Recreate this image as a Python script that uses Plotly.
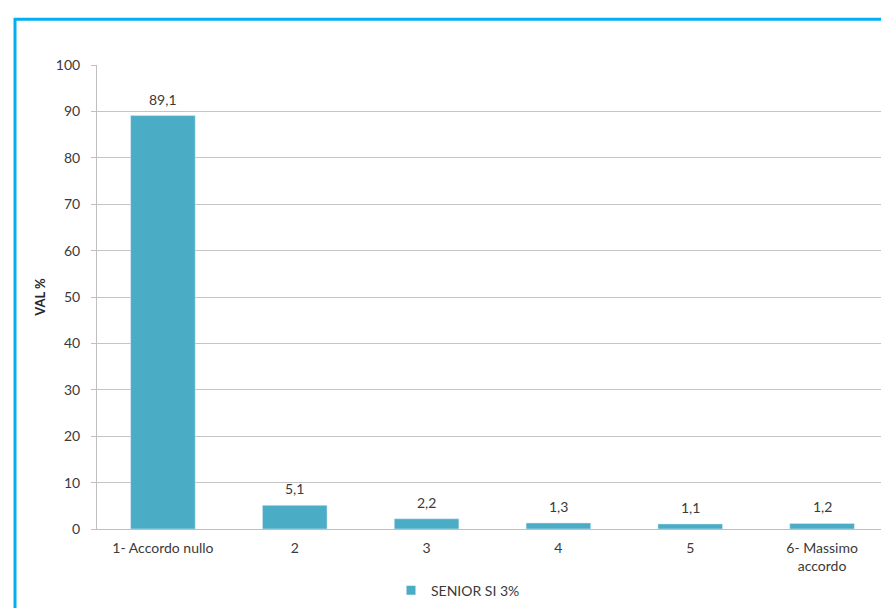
import plotly.graph_objects as go

categories = ["1- Accordo nullo", "2", "3", "4", "5", "6- Massimo<br>accordo"]
values = [89.1, 5.1, 2.2, 1.3, 1.1, 1.2]
series_name = "SENIOR SI 3%"
y_ticks = [0, 10, 20, 30, 40, 50, 60, 70, 80, 90, 100]

W, H = 889, 608
L, R, T, B = 89, 9, 57, 85
pw, ph = W - L - R, H - T - B

def px(x):
    return (x - L) / pw

def py(y):
    return (H - B - y) / ph

font_family = "Lato, 'Open Sans', sans-serif"
text_color = "#3a3a3a"
bar_color = "#4BACC6"

fig = go.Figure()
fig.add_trace(go.Bar(
    x=categories, y=values, name=series_name,
    marker=dict(color=bar_color),
    width=0.49, showlegend=False,
))
# legend entry (small square like the original)
fig.add_trace(go.Scatter(
    x=[categories[0]], y=[None], mode="markers", name=series_name,
    marker=dict(symbol="square", size=9, color=bar_color),
))

annotations = []
for i, v in enumerate(values):
    annotations.append(dict(
        x=i, y=v, xref="x", yref="y", text=f"{v:.1f}".replace(".", ","),
        showarrow=False, yanchor="bottom", yshift=6,
        font=dict(family=font_family, size=14, color=text_color),
    ))

fig.update_layout(
    width=W, height=H,
    margin=dict(l=L, r=R, t=T, b=B),
    paper_bgcolor="white", plot_bgcolor="white",
    showlegend=True,
    annotations=annotations,
    legend=dict(orientation="h", x=px(383), xanchor="left", y=py(585), yanchor="middle",
                font=dict(family=font_family, size=14, color=text_color),
                itemwidth=30),
    xaxis=dict(
        type="category", categoryorder="array", categoryarray=categories,
        showgrid=False, showline=True, linecolor="#BFBFBF", linewidth=1,
        ticks="", ticklabelstandoff=6,
        tickfont=dict(family=font_family, size=14, color=text_color),
        range=[-0.5, 5.5],
    ),
    yaxis=dict(
        range=[0, 100], tickvals=y_ticks, showgrid=True, gridcolor="#C4C4C4", gridwidth=1,
        showline=True, linecolor="#BFBFBF", linewidth=1, ticks="outside", ticklen=5,
        tickcolor="#BFBFBF", zeroline=False, ticklabelstandoff=8,
        tickfont=dict(family=font_family, size=14, color=text_color),
        title=dict(text="<b>VAL %</b>", font=dict(family=font_family, size=13, color="#262626"),
                   standoff=7),
    ),
    shapes=[dict(type="rect", xref="paper", yref="paper",
                 x0=px(7), x1=px(900), y0=py(11), y1=py(640),
                 line=dict(color="#00B0F0", width=3), fillcolor="rgba(0,0,0,0)", layer="above")],
)

fig.write_html("out.html")
